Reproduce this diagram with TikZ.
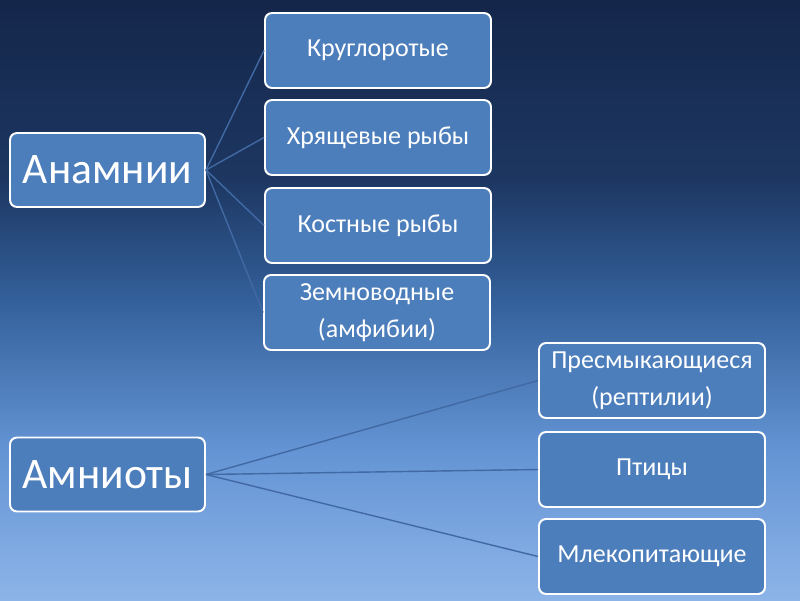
\documentclass[tikz,border=0pt]{standalone}
\usepackage{fontspec}
\setmainfont{Carlito}
\usepackage{tikz}
\usetikzlibrary{positioning}

\definecolor{boxblue}{HTML}{4D7EBC}
\definecolor{linkblue}{HTML}{4169A3}
\definecolor{bgbot}{HTML}{8CB4E8}
\definecolor{bglow}{HTML}{6494D4}
\definecolor{bgmid}{HTML}{33609A}
\definecolor{bghigh}{HTML}{1D3762}
\definecolor{bgtop}{HTML}{14264A}

\pgfdeclareverticalshading{slidebg}{100bp}{
    color(0bp)=(bgbot);
    color(25bp)=(bgbot);
    color(37.5bp)=(bglow);
    color(50bp)=(bgmid);
    color(60bp)=(bghigh);
    color(75bp)=(bgtop);
    color(100bp)=(bgtop)}

\begin{document}
\begin{tikzpicture}[
    group/.style={rectangle, rounded corners=5pt, draw=white, line width=1.4pt, fill=boxblue,
        text=white, minimum width=4.875cm, minimum height=1.85cm, font=\fontsize{31}{36}\selectfont},
    kind/.style={rectangle, rounded corners=5pt, draw=white, line width=1.4pt, fill=boxblue,
        text=white, minimum width=5.65cm, minimum height=1.875cm, align=center,
        font=\fontsize{18.5}{26}\selectfont},
    link/.style={draw=linkblue, line width=1pt}
]

% Background
\shade[shading=slidebg] (0,0) rectangle (20,15);
\useasboundingbox (0,0) rectangle (20,15);

% Main groups
\node[group] (anamnii) at (2.6875,10.75) {Анамнии};
\node[group] (amnioty) at (2.6875,3.1375) {Амниоты};

% Anamnia classes
\node[kind] (krugl) at (9.45,13.7375) {Круглоротые};
\node[kind] (hrysch) at (9.45,11.5625) {Хрящевые рыбы};
\node[kind] (kostn) at (9.45,9.3625) {Костные рыбы};
\node[kind] (zemnov) at (9.425,7.1875) {Земноводные\\(амфибии)};

% Amniota classes
\node[kind] (presm) at (16.3,5.4875) {Пресмыкающиеся\\(рептилии)};
\node[kind] (ptitsy) at (16.3,3.2625) {Птицы};
\node[kind] (mlekop) at (16.3,1.0875) {Млекопитающие};

% Links
\path[link]
    (anamnii.east) edge (krugl.west)
    (anamnii.east) edge (hrysch.west)
    (anamnii.east) edge (kostn.west)
    (anamnii.east) edge (zemnov.west)
    (amnioty.east) edge (presm.west)
    (amnioty.east) edge (ptitsy.west)
    (amnioty.east) edge (mlekop.west);

\end{tikzpicture}
\end{document}
